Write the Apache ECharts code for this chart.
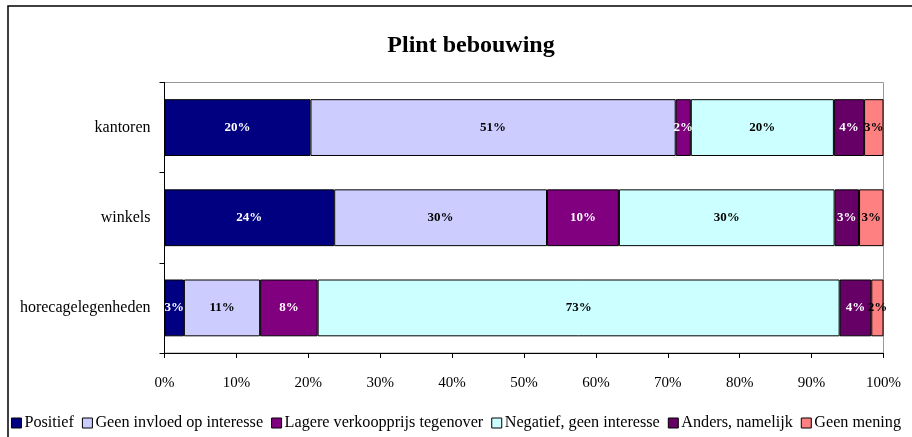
<!DOCTYPE html>
<html>
<head>
<meta charset="utf-8">
<script src="https://cdn.jsdelivr.net/npm/echarts@6/dist/echarts.min.js"></script>
<style>
  html, body { margin: 0; padding: 0; background: #fff; }
  #chart { width: 912px; height: 437px; }
</style>
</head>
<body>
<div id="chart"></div>
<script>
// Survey categories (top to bottom)
const categories = ['kantoren', 'winkels', 'horecagelegenheden'];

// Share of responses per answer, in percent, per category
const positief      = [20.3, 23.6, 2.7];
const geenInvloed   = [50.8, 29.6, 10.6];
const lagerePrijs   = [2.1, 10.0, 8.0];
const negatief      = [19.9, 30.0, 72.6];
const anders        = [4.2, 3.4, 4.4];
const geenMening    = [2.7, 3.4, 1.7];

const xTicks = [0, 10, 20, 30, 40, 50, 60, 70, 80, 90, 100];

const seriesDefs = [
  { name: 'Positief', data: positief, color: '#000080', text: '#ffffff' },
  { name: 'Geen invloed op interesse', data: geenInvloed, color: '#CCCCFF', text: '#000000' },
  { name: 'Lagere verkoopprijs tegenover', data: lagerePrijs, color: '#800080', text: '#ffffff' },
  { name: 'Negatief, geen interesse', data: negatief, color: '#CCFFFF', text: '#000000' },
  { name: 'Anders, namelijk', data: anders, color: '#660066', text: '#ffffff' },
  { name: 'Geen mening', data: geenMening, color: '#FF8080', text: '#000000' }
];

const serif = '"Liberation Serif", "DejaVu Serif", serif';

const chart = echarts.init(document.getElementById('chart'), null, { renderer: 'canvas' });

chart.setOption({
  animation: false,
  backgroundColor: '#ffffff',
  textStyle: { fontFamily: serif },
  graphic: [{
    type: 'rect',
    shape: { x: 8, y: 6, width: 1000, height: 500 },
    style: { fill: 'none', stroke: '#000', lineWidth: 1.5 },
    silent: true,
    z: -1
  }],
  title: {
    text: 'Plint bebouwing',
    left: 466,
    top: 29,
    textAlign: 'center',
    textStyle: { fontFamily: serif, fontSize: 24, fontWeight: 'bold', color: '#000' }
  },
  legend: {
    bottom: 6,
    left: 'center',
    padding: 0,
    itemWidth: 10,
    itemHeight: 10,
    itemGap: 8,
    icon: 'rect',
    textStyle: { fontFamily: serif, fontSize: 16.2, color: '#000', padding: [0, 0, 0, -2] },
    data: seriesDefs.map(s => ({ name: s.name, itemStyle: { color: s.color, borderColor: '#000', borderWidth: 1 } }))
  },
  grid: {
    left: 164.5,
    right: 28.5,
    top: 82.5,
    bottom: 84,
    show: true,
    borderColor: '#999',
    borderWidth: 1
  },
  xAxis: {
    type: 'value',
    min: xTicks[0],
    max: xTicks[xTicks.length - 1],
    interval: 10,
    axisLine: { show: true, lineStyle: { color: '#000', width: 1 } },
    axisTick: { show: true, length: 5, lineStyle: { color: '#000' } },
    splitLine: { show: false },
    axisLabel: {
      formatter: '{value}%',
      margin: 23,
      fontFamily: serif,
      fontSize: 15,
      color: '#000'
    }
  },
  yAxis: {
    type: 'category',
    inverse: true,
    data: categories,
    axisLine: { show: true, lineStyle: { color: '#000', width: 1 } },
    axisTick: { show: true, length: 5, lineStyle: { color: '#000' } },
    axisLabel: { margin: 14, fontFamily: serif, fontSize: 16, color: '#000' }
  },
  series: seriesDefs.map(s => ({
    name: s.name,
    type: 'bar',
    stack: 'total',
    barCategoryGap: '37%',
    data: s.data,
    itemStyle: { color: s.color, borderColor: '#000', borderWidth: 1 },
    label: {
      show: true,
      position: 'inside',
      formatter: p => Math.round(p.value) + '%',
      fontFamily: serif,
      fontSize: 13,
      fontWeight: 'bold',
      color: s.text
    }
  }))
});
</script>
</body>
</html>
